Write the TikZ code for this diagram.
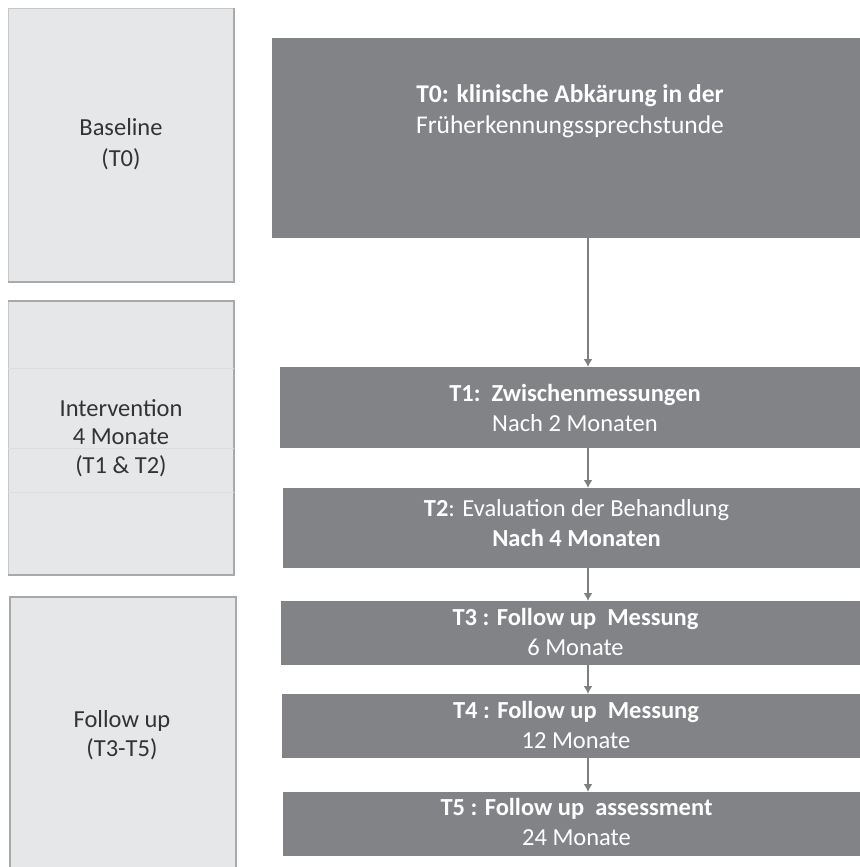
\documentclass[tikz,border=0pt]{standalone}
\usepackage{fontspec}
\setmainfont{Carlito}
\usetikzlibrary{arrows.meta,positioning}
\definecolor{darkbox}{HTML}{828387}
\definecolor{lightbox}{HTML}{E6E7E9}
\definecolor{lightedge}{HTML}{A8A9AB}
\definecolor{lighttop}{HTML}{C6C7C9}
\definecolor{leftfont}{HTML}{333333}
\definecolor{arrowgray}{HTML}{7F7F7F}
\begin{document}
\begin{tikzpicture}[x=1pt,y=-1pt,
  phasebox/.style={fill=lightbox, draw=lighttop, line width=0.6pt, inner sep=0pt, outer sep=0pt},
  phasetext/.style={text=leftfont, font=\fontsize{24.5}{28.5}\selectfont, align=center, inner sep=0pt},
  stepbox/.style={fill=darkbox, draw=none, inner sep=0pt, outer sep=0pt},
  steptext/.style={text=white, font=\fontsize{24.5}{30}\selectfont, align=center, inner sep=0pt},
  flow/.style={draw=arrowgray, line width=1.6pt, -{Latex[length=8pt,width=9pt]}},
  edge/.style={draw=lightedge, line width=1.6pt},
  faint/.style={draw=lighttop!30!lightbox, line width=0.6pt}
]
\useasboundingbox (0,0) rectangle (859,867);
\fill[white] (0,0) rectangle (859,867);

% left phase boxes
\node[phasebox, minimum width=226pt, minimum height=274pt] (base) at (121,145) {};
\node[phasebox, minimum width=226pt, minimum height=274pt] (interv) at (121,438) {};
\node[phasebox, minimum width=226pt, minimum height=290pt] (follow) at (123,742) {};
\draw[edge] (base.north east) -- (base.south east) -- (base.south west);
\draw[edge] (interv.north west) -- (interv.north east) -- (interv.south east) -- (interv.south west);
\draw[edge] (follow.south west) -- (follow.north west) -- (follow.north east) -- (follow.south east);
\draw[faint] (interv.west |- 0,368) -- (interv.east |- 0,368);
\draw[faint] (interv.west |- 0,448) -- (interv.east |- 0,448);
\draw[faint] (interv.west |- 0,492) -- (interv.east |- 0,492);

\node[phasetext] (baset) at (121,144) {Baseline\\[3pt](T0)};
\node[phasetext] (intervt) at (121,438) {Intervention\\4 Monate\\(T1 \& T2)};
\node[phasetext] (followt) at (122,735) {Follow up\\(T3-T5)};

% right step boxes (extend past the right edge)
\node[stepbox, minimum width=598pt, minimum height=200pt] (T0) at (571,138) {};
\node[stepbox, minimum width=590pt, minimum height=81pt] (T1) at (575,407.5) {};
\node[stepbox, minimum width=587pt, minimum height=80pt] (T2) at (576.5,528) {};
\node[stepbox, minimum width=589pt, minimum height=64pt] (T3) at (575.5,633) {};
\node[stepbox, minimum width=588pt, minimum height=64pt] (T4) at (576,726) {};
\node[stepbox, minimum width=587pt, minimum height=64pt] (T5) at (576.5,824) {};

\node[steptext, font=\fontsize{25.5}{31}\selectfont] (T0t) at (570,111) {\textbf{T0: klinische Abkärung in der}\\Früherkennungssprechstunde};
\node[steptext] (T1t) at (T1) {\textbf{T1:\ \ Zwischenmessungen}\\Nach 2 Monaten};
\node[steptext] (T2t) at ([yshift=5pt]T2.center) {\textbf{T2}: Evaluation der Behandlung\\\textbf{Nach 4 Monaten}};
\node[steptext] (T3t) at ([yshift=1.5pt]T3.center) {\textbf{T3 : Follow up\ \ Messung}\\6 Monate};
\node[steptext] (T4t) at ([yshift=1.5pt]T4.center) {\textbf{T4 : Follow up\ \ Messung}\\12 Monate};
\node[steptext] (T5t) at ([yshift=2pt]T5.center) {\textbf{T5 : Follow up\ \ assessment}\\24 Monate};

% connectors
\coordinate (ax) at (588,0);
\draw[flow] (T0.south -| ax) -- (T1.north -| ax);
\draw[flow] (T1.south -| ax) -- (T2.north -| ax);
\draw[flow] (T2.south -| ax) -- (T3.north -| ax);
\draw[flow] (T3.south -| ax) -- (T4.north -| ax);
\draw[flow] (T4.south -| ax) -- (T5.north -| ax);
\end{tikzpicture}
\end{document}
